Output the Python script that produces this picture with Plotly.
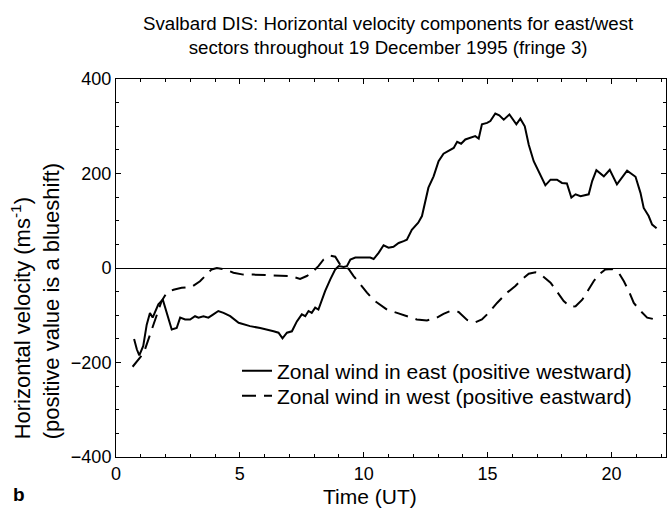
import plotly.graph_objects as go

# East sector (solid), positive westward
t_east = [0.73, 0.84, 0.94, 1.1, 1.24, 1.37, 1.48, 1.58, 1.71, 1.89, 2.05, 2.25, 2.45, 2.59, 2.79,
          2.99, 3.19, 3.33, 3.53, 3.73, 3.93, 4.13, 4.34, 4.61, 4.95, 5.21, 5.41, 5.82, 6.09, 6.36,
          6.56, 6.72, 6.9, 7.1, 7.3, 7.5, 7.64, 7.77, 7.9, 8.04, 8.17, 8.31, 8.44, 8.65, 8.85,
          8.99, 9.19, 9.32, 9.46, 9.66, 9.93, 10.26, 10.4, 10.6, 10.8, 11.0, 11.2, 11.41, 11.61,
          11.74, 11.94, 12.2, 12.35, 12.48, 12.61, 12.82, 13.02, 13.22, 13.5, 13.63, 13.77, 13.93,
          14.1, 14.3, 14.5, 14.64, 14.77, 14.98, 15.11, 15.31, 15.47, 15.65, 15.88, 16.16, 16.32,
          16.5, 16.66, 16.86, 17.06, 17.33, 17.54, 17.8, 18.0, 18.2, 18.38, 18.55, 18.75, 19.08,
          19.22, 19.39, 19.69, 19.93, 20.22, 20.63, 20.97, 21.17, 21.3, 21.5, 21.64, 21.82]
v_east = [-150, -172, -185, -165, -120, -95, -105, -91, -77, -67, -95, -130, -127, -105, -109,
          -109, -102, -105, -102, -105, -98, -91, -95, -102, -116, -120, -123, -127, -130, -134,
          -137, -149, -137, -134, -113, -98, -102, -91, -95, -84, -88, -67, -49, -24, -3,
          4, 2, 4, 18, 22, 22, 22, 19, 32, 48, 43, 45, 53, 57,
          60, 81, 96, 110, 138, 170, 194, 226, 242, 249, 254, 267, 263,
          272, 276, 279, 274, 304, 307, 311, 327, 323, 314, 325, 304, 316,
          300, 261, 226, 205, 175, 187, 187, 180, 179, 149, 156, 152, 156,
          184, 207, 194, 208, 177, 206, 193, 159, 127, 110, 92, 84]

# West sector (dashed), positive eastward
t_west = [0.67, 0.84, 1.04, 1.17, 1.31, 1.44, 1.64, 1.84, 2.05, 2.32, 2.65, 3.05, 3.39, 3.66,
          3.86, 4.07, 4.4, 4.74, 5.14, 5.55, 6.09, 6.63, 7.03, 7.43, 7.7, 7.9, 8.17, 8.38, 8.65,
          8.85, 9.05, 9.25, 9.39, 9.59, 9.86, 10.13, 10.4, 10.6, 10.94, 11.34, 11.74, 12.14,
          12.55, 12.95, 13.22, 13.49, 13.83, 14.03, 14.17, 14.5, 14.77, 15.04, 15.38, 15.79,
          16.12, 16.39, 16.66, 16.93, 17.2, 17.54, 17.8, 18.07, 18.34, 18.55, 18.82, 19.08,
          19.28, 19.49, 19.75, 20.03, 20.29, 20.5, 20.7, 20.9, 21.17, 21.44, 21.78]
v_west = [-209, -199, -185, -172, -151, -130, -98, -70, -52, -46, -42, -40, -28, -14,
          -3, 0, -3, -10, -14, -14, -15, -17, -17, -23, -17, -10, 4, 18, 26,
          24, 7, 4, -2, -17, -35, -52, -68, -76, -88, -95, -102, -109,
          -111, -105, -97, -91, -93, -102, -110, -115, -109, -95, -74, -52,
          -38, -24, -12, -9, -16, -31, -49, -70, -82, -81, -67, -46,
          -28, -14, -3, -2, -10, -28, -49, -74, -91, -105, -109]

x_ticks = [0, 5, 10, 15, 20]
y_ticks = [-400, -200, 0, 200, 400]

FONT = "Liberation Sans, Arial, Helvetica, sans-serif"

fig = go.Figure()
fig.add_trace(go.Scatter(x=t_east, y=v_east, mode="lines",
                         name="Zonal wind in east (positive westward)",
                         line=dict(color="black", width=2), legend="legend"))
fig.add_trace(go.Scatter(x=t_west, y=v_west, mode="lines",
                         name="Zonal wind in west (positive eastward)",
                         line=dict(color="black", width=2, dash="14px,8px"), legend="legend2"))

axis_common = dict(showline=True, linecolor="black", linewidth=1, mirror="allticks",
                   ticks="inside", ticklen=5, tickcolor="black", showgrid=False,
                   automargin=False,
                   tickfont=dict(size=18, color="black", family=FONT))

fig.update_xaxes(range=[0, 22.2], tickvals=x_ticks, zeroline=False,
                 minor=dict(dtick=1, ticks="inside", ticklen=3, tickcolor="black"),
                 **axis_common)
fig.update_yaxes(range=[-400, 400], tickvals=y_ticks, zeroline=True, zerolinecolor="black",
                 zerolinewidth=1,
                 minor=dict(dtick=50, ticks="inside", ticklen=3, tickcolor="black"),
                 **axis_common)

leg_font = dict(size=21, color="black", family=FONT)
fig.update_layout(
    width=671, height=510,
    margin=dict(l=116, r=5, t=79, b=53),
    paper_bgcolor="white", plot_bgcolor="white",
    font=dict(family=FONT, color="black", size=18),
    legend=dict(x=0.22, y=0.227, xanchor="left", yanchor="middle", bgcolor="rgba(0,0,0,0)",
                font=leg_font),
    legend2=dict(x=0.22, y=0.161, xanchor="left", yanchor="middle", bgcolor="rgba(0,0,0,0)",
                 font=leg_font),
    showlegend=True,
)
# Title (two lines)
fig.add_annotation(text="Svalbard DIS: Horizontal velocity components for east/west<br>sectors throughout 19 December 1995 (fringe 3)",
                   xref="paper", yref="paper", x=0.495, y=1.116, xanchor="center", yanchor="middle",
                   showarrow=False, align="center",
                   font=dict(size=18.7, color="black", family=FONT))
# Y axis title
fig.add_annotation(text="Horizontal velocity (ms<sup>-1</sup>)<br>(positive value is a blueshift)",
                   xref="paper", yref="paper", x=-0.146, y=0.411, xanchor="center", yanchor="middle",
                   textangle=-90, showarrow=False, align="left",
                   font=dict(size=22, color="black", family=FONT))
# X axis title
fig.add_annotation(text="Time (UT)", xref="paper", yref="paper", x=0.462, y=-0.104,
                   xanchor="center", yanchor="middle", showarrow=False,
                   font=dict(size=21, color="black", family=FONT))
fig.add_annotation(text="<b>b</b>", xref="paper", yref="paper", x=-0.176, y=-0.1003,
                   xanchor="center", yanchor="middle", showarrow=False,
                   font=dict(size=19, color="black", family=FONT))

fig.write_html("out.html", config={"displayModeBar": False},
               post_script="document.body.style.margin='0';document.body.style.overflow='hidden';")
